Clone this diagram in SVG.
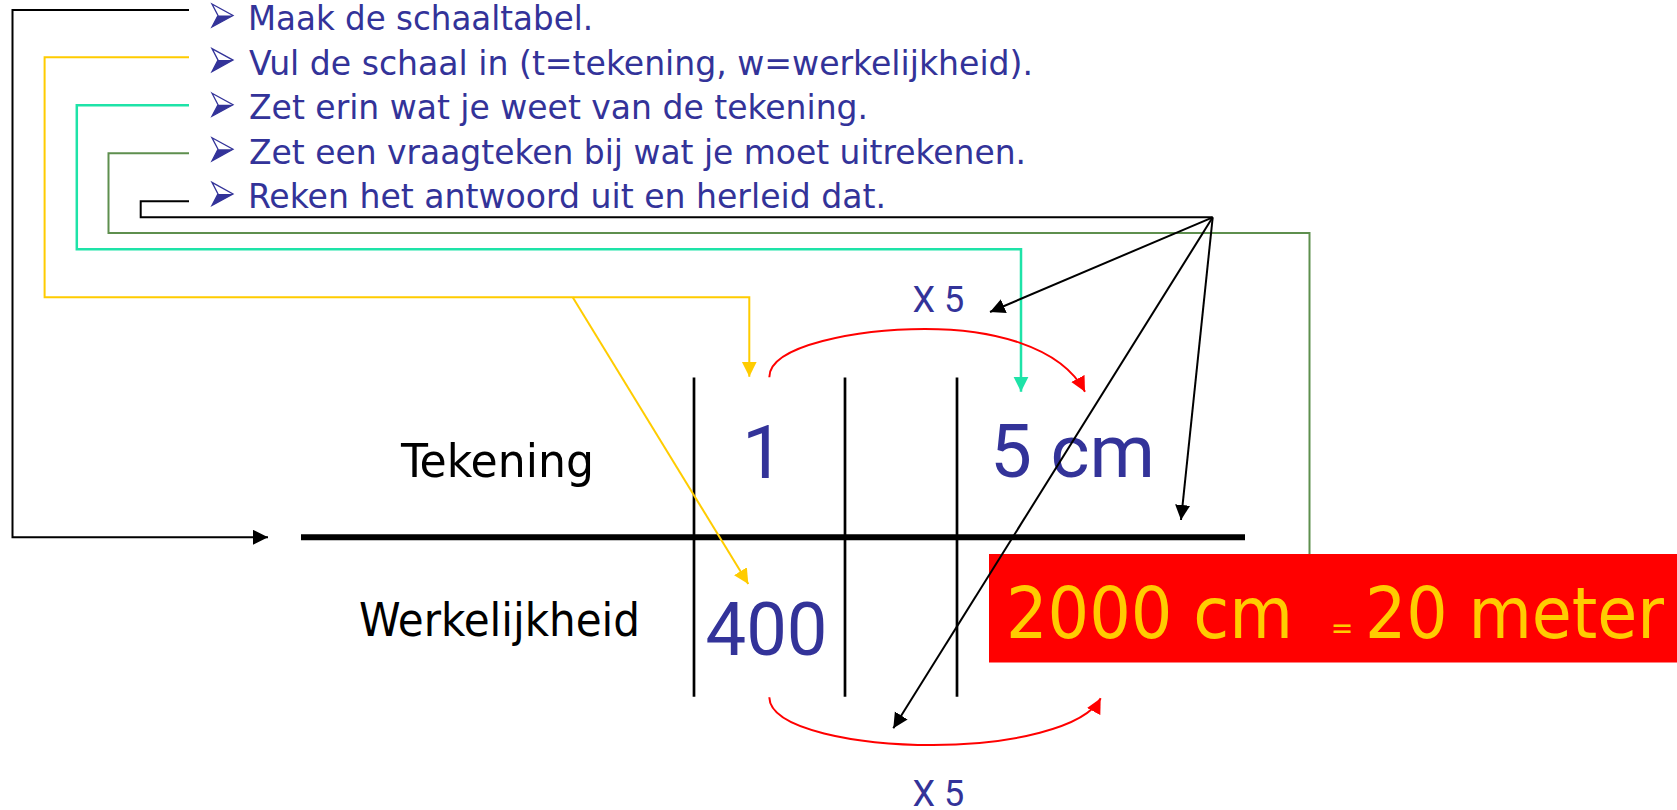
<svg xmlns="http://www.w3.org/2000/svg" width="1677" height="810" viewBox="0 0 1677 810">
<style>
.bul{font-family:"DejaVu Sans Condensed","DejaVu Sans",sans-serif;font-size:34px;fill:#333399}
.lab{font-family:"DejaVu Sans Condensed","DejaVu Sans",sans-serif;font-size:47px;fill:#000}
.num{font-family:Roboto,"Liberation Sans",sans-serif;fill:#333399}
.big{font-family:"DejaVu Sans Condensed","DejaVu Sans",sans-serif;font-size:72px;fill:#FFCC00}
.eq{font-family:"DejaVu Sans Condensed","DejaVu Sans",sans-serif;font-size:30px;fill:#FFCC00}
.chev{fill:#fff;stroke:#333399;stroke-width:1.3;stroke-linejoin:miter}
.chevf{fill:#333399}
.tl{stroke:#000;stroke-width:2.7;fill:none}
.c{fill:none;stroke-width:2}
.k{stroke:#000}
.y{stroke:#FFCC00}
.cy{stroke:#1EE3A8;stroke-width:2.5}
.g{stroke:#5E8F4E}
.r{stroke:#FF0000}
</style>
<defs>
<marker id="ak" markerUnits="userSpaceOnUse" markerWidth="16" markerHeight="16" refX="15" refY="7.5" orient="auto"><path d="M0,0 L15,7.5 L0,15 z" fill="#000"/></marker>
<marker id="ay" markerUnits="userSpaceOnUse" markerWidth="16" markerHeight="16" refX="15" refY="7.5" orient="auto"><path d="M0,0 L15,7.5 L0,15 z" fill="#FFCC00"/></marker>
<marker id="ac" markerUnits="userSpaceOnUse" markerWidth="16" markerHeight="16" refX="15" refY="7.5" orient="auto"><path d="M0,0 L15,7.5 L0,15 z" fill="#1EE3A8"/></marker>
<marker id="ar" markerUnits="userSpaceOnUse" markerWidth="16" markerHeight="16" refX="15" refY="7.5" orient="auto"><path d="M0,0 L15,7.5 L0,15 z" fill="#FF0000"/></marker>
<g id="chevron">
<polygon class="chev" points="0,0 21,11.5 0,23 6,11.5"/>
<polygon class="chevf" points="6,11.5 21,11.5 0,23"/>
</g>
</defs>
<rect width="1677" height="810" fill="#fff"/>

<g id="step1"><use href="#chevron" x="212" y="4"/><text class="bul" x="248" y="30" textLength="345" lengthAdjust="spacingAndGlyphs">Maak de schaaltabel.</text></g>
<g id="step2"><use href="#chevron" x="212" y="48.6"/><text class="bul" x="249" y="74.6" textLength="784" lengthAdjust="spacingAndGlyphs">Vul de schaal in (t=tekening, w=werkelijkheid).</text></g>
<g id="step3"><use href="#chevron" x="212" y="93.2"/><text class="bul" x="249" y="119.2" textLength="619" lengthAdjust="spacingAndGlyphs">Zet erin wat je weet van de tekening.</text></g>
<g id="step4"><use href="#chevron" x="212" y="137.8"/><text class="bul" x="249" y="163.8" textLength="777" lengthAdjust="spacingAndGlyphs">Zet een vraagteken bij wat je moet uitrekenen.</text></g>
<g id="step5"><use href="#chevron" x="212" y="182.4"/><text class="bul" x="248" y="208.4" textLength="638" lengthAdjust="spacingAndGlyphs">Reken het antwoord uit en herleid dat.</text></g>

<g id="result">
<rect x="989" y="554" width="688" height="108.5" fill="#FF0000"/>
<text class="big" x="1006" y="637.7" textLength="287" lengthAdjust="spacingAndGlyphs">2000 cm</text>
<text class="eq" x="1342" y="638" text-anchor="middle">=</text>
<text class="big" x="1365" y="637.7" textLength="299" lengthAdjust="spacingAndGlyphs">20 meter</text>
</g>

<g id="table">
<line x1="301" y1="537.3" x2="1245" y2="537.3" stroke="#000" stroke-width="6"/>
<line class="tl" x1="694" y1="377.5" x2="694" y2="696.7"/>
<line class="tl" x1="845" y1="377.5" x2="845" y2="696.7"/>
<line class="tl" x1="957" y1="377.5" x2="957" y2="696.7"/>
</g>
<g id="label-tekening"><text class="lab" x="401" y="476.7" textLength="193" lengthAdjust="spacingAndGlyphs">Tekening</text></g>
<g id="label-werkelijkheid"><text class="lab" x="359" y="636" textLength="281" lengthAdjust="spacingAndGlyphs">Werkelijkheid</text></g>
<g id="t-1"><text class="num" x="742" y="478.3" font-size="75">1</text></g>
<g id="t-5cm"><text class="num" x="990" y="477.3" font-size="75" textLength="165" lengthAdjust="spacingAndGlyphs">5 cm</text></g>
<g id="w-400"><text class="num" x="705.5" y="654.5" font-size="75" textLength="122" lengthAdjust="spacingAndGlyphs">400</text></g>
<g id="x5-top"><text class="num" x="912.5" y="311.7" font-size="36">X 5</text></g>
<g id="x5-bottom"><text class="num" x="912.5" y="805.5" font-size="36">X 5</text></g>

<g id="connectors">
<polyline class="c g" points="189,153.3 108.5,153.3 108.5,233 1309.5,233 1309.5,554"/>
<polyline class="c k" points="189,10 12.5,10 12.5,537.3 268,537.3" marker-end="url(#ak)"/>
<polyline class="c y" points="189,57.3 44.6,57.3 44.6,297.3 749.3,297.3 749.3,376.7" marker-end="url(#ay)"/>
<line class="c y" x1="572.7" y1="297.3" x2="748.3" y2="584" marker-end="url(#ay)"/>
<polyline class="c cy" points="189,105.3 76.8,105.3 76.8,249.3 1021,249.3 1021,391.7" marker-end="url(#ac)"/>
<polyline class="c k" points="189,201.3 140.7,201.3 140.7,217.3 1212.7,217.3"/>
<line class="c k" x1="1212.7" y1="217.3" x2="990" y2="312" marker-end="url(#ak)"/>
<line class="c k" x1="1212.7" y1="217.3" x2="893.3" y2="728.3" marker-end="url(#ak)"/>
<line class="c k" x1="1212.7" y1="217.3" x2="1181" y2="520" marker-end="url(#ak)"/>
<path class="c r" d="M769.3,377.3 C769,345 860,329 925,329 C990,329 1060,345 1085,391.7" marker-end="url(#ar)"/>
<path class="c r" d="M769.3,697.3 C770,730 860,745 933,745 C1010,745 1085,728 1100.7,698.3" marker-end="url(#ar)"/>
</g>
</svg>
